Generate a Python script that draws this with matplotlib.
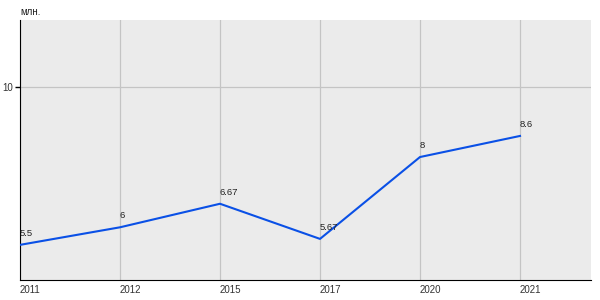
import matplotlib
matplotlib.use('Agg')
import matplotlib.pyplot as plt

years = ['2011', '2012', '2015', '2017', '2020', '2021']
values = [5.5, 6.0, 6.67, 5.67, 8.0, 8.6]
labels = ['5.5', '6', '6.67', '5.67', '8', '8.6']

plt.rcParams['font.family'] = ['Liberation Sans', 'DejaVu Sans']

fig = plt.figure(figsize=(6, 3), dpi=100)
ax = fig.add_axes([20 / 600, 20 / 300, 571 / 600, 260 / 300])
ax.set_facecolor('#ebebeb')

x = list(range(len(years)))
ax.plot(x, values, color='#0a50e6', lw=1.5, zorder=3)
for xi, v, lab in zip(x, values, labels):
    ax.annotate(lab, (xi, v), xytext=(0, 5), textcoords='offset points',
                fontsize=6.8, color='#222222', ha='left', va='bottom')

ax.set_xlim(0, 5.71)
ax.set_ylim(4.5, 11.9)
ax.set_xticks(x)
ax.set_xticklabels(years, fontsize=7, color='#333333')
ax.set_yticks([10])
ax.set_yticklabels(['10'], fontsize=7, color='#333333')
ax.tick_params(axis='x', length=0, pad=3.5)
ax.tick_params(axis='y', length=3.5, width=1, pad=1.5)
ax.grid(True, color='#c4c4c4', lw=0.9)
ax.set_axisbelow(True)
for s in ['top', 'right']:
    ax.spines[s].set_visible(False)
ax.spines['left'].set_color('black')
ax.spines['bottom'].set_color('black')
for lab in ax.get_xticklabels():
    lab.set_horizontalalignment('left')

fig.text(20 / 600, 1 - 12 / 300, 'млн.', fontsize=7, color='#222222', va='center', ha='left')

fig.savefig('out.png', dpi=100)
